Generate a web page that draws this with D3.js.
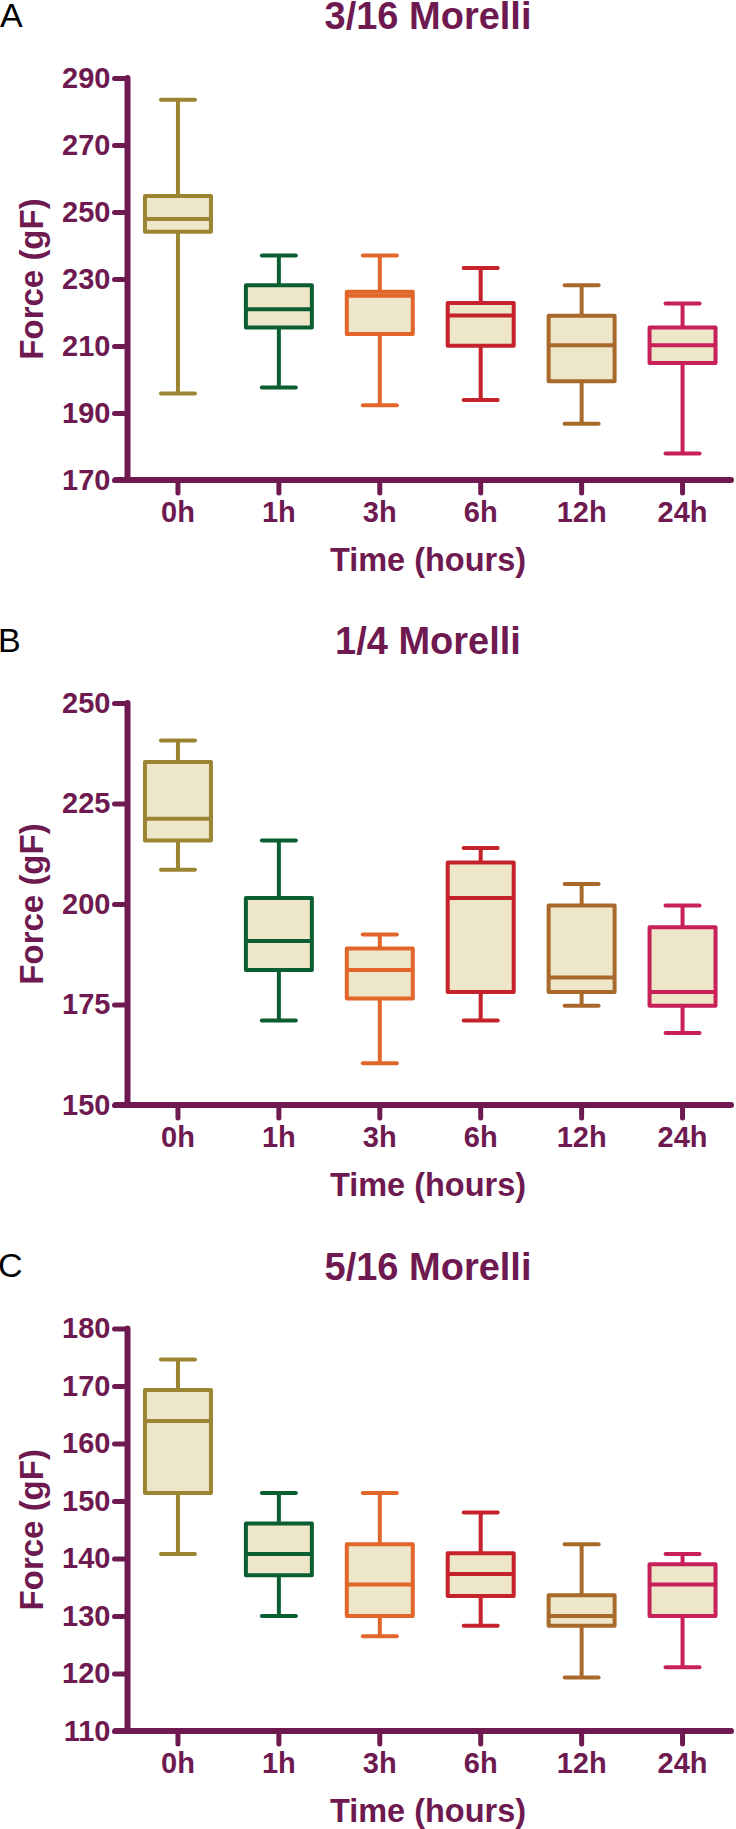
<!DOCTYPE html>
<html>
<head>
<meta charset="utf-8">
<script src="https://cdn.jsdelivr.net/npm/d3@7"></script>
<style>
  html, body { margin: 0; padding: 0; background: #fff; }
  svg { display: block; }
  text { font-family: "Liberation Sans", Arial, sans-serif; }
</style>
</head>
<body>
<svg id="chart" width="736" height="1829"></svg>
<script>
// ---------- data ----------
const categories = ["0h", "1h", "3h", "6h", "12h", "24h"];
const colors = ["#9b8532", "#0b5e31", "#e2652a", "#c6222b", "#a9692b", "#c8215a"];

// Panel A: 3/16 Morelli
const aTicks = [170, 190, 210, 230, 250, 270, 290];
const aMin = [195.8, 197.6, 192.3, 193.9, 186.8, 177.9];
const aQ1  = [244.1, 215.5, 213.6, 210.1, 199.5, 204.9];
const aMed = [247.9, 221.0, 225.0, 219.1, 210.2, 210.2];
const aQ3  = [254.8, 228.1, 226.2, 222.8, 219.0, 215.5];
const aMax = [283.5, 237.0, 237.0, 233.3, 228.1, 222.7];

// Panel B: 1/4 Morelli
const bTicks = [150, 175, 200, 225, 250];
const bMin = [208.5, 171.0, 160.4, 171.0, 174.7, 167.9];
const bQ1  = [215.8, 183.6, 176.5, 178.1, 178.1, 174.7];
const bMed = [221.2, 190.8, 183.6, 201.5, 181.7, 178.1];
const bQ3  = [235.3, 201.5, 188.9, 210.3, 199.6, 194.2];
const bMax = [240.7, 215.8, 192.4, 213.9, 205.0, 199.6];

// Panel C: 5/16 Morelli
const cTicks = [110, 120, 130, 140, 150, 160, 170, 180];
const cMin = [140.8, 130.0, 126.5, 128.3, 119.3, 121.1];
const cQ1  = [151.4, 137.1, 130.0, 133.5, 128.3, 130.0];
const cMed = [163.9, 140.8, 135.5, 137.3, 130.0, 135.5];
const cQ3  = [169.3, 146.1, 142.5, 140.9, 133.6, 139.0];
const cMax = [174.6, 151.4, 151.4, 148.0, 142.5, 140.8];

const panelLetters = ["A", "B", "C"];
const panelTitles = ["3/16 Morelli", "1/4 Morelli", "5/16 Morelli"];
const yTitle = "Force (gF)";
const xTitle = "Time (hours)";

// ---------- layout ----------
const axisColor = "#6e1a50";
const boxFill = "#ede6c9";
const layout = [
  { top: 78,    bottom: 480 },
  { top: 703,   bottom: 1105 },
  { top: 1328.5, bottom: 1731 }
];
const xLeft = 127.5, xRight = 733;

const panels = [
  { ticks: aTicks, min: aMin, q1: aQ1, med: aMed, q3: aQ3, max: aMax },
  { ticks: bTicks, min: bMin, q1: bQ1, med: bMed, q3: bQ3, max: bMax },
  { ticks: cTicks, min: cMin, q1: cQ1, med: cMed, q3: cQ3, max: cMax }
];

const svg = d3.select("#chart");

const x = d3.scaleBand().domain(categories).range([xLeft, xRight]).padding(0);
const boxW = 66, capW = 34;

panels.forEach((p, i) => {
  const L = layout[i];
  const y = d3.scaleLinear()
    .domain([d3.min(p.ticks), d3.max(p.ticks)])
    .range([L.bottom, L.top]);
  const g = svg.append("g");

  // letter
  g.append("text")
    .attr("x", i === 0 ? 0 : -2)
    .attr("y", L.top - 51.5)
    .attr("font-size", 34)
    .attr("fill", "#000")
    .text(panelLetters[i]);

  // title
  g.append("text")
    .attr("x", 428)
    .attr("y", L.top - 49)
    .attr("text-anchor", "middle")
    .attr("font-size", 38)
    .attr("font-weight", "bold")
    .attr("fill", axisColor)
    .text(panelTitles[i]);

  // y axis
  const yAxis = d3.axisLeft(y).tickValues(p.ticks).tickSize(13).tickPadding(4).tickSizeOuter(0);
  const yg = g.append("g").attr("transform", `translate(${xLeft},0)`).call(yAxis);
  yg.select(".domain").remove();
  yg.selectAll(".tick line")
    .attr("stroke", axisColor).attr("stroke-width", 5).attr("stroke-linecap", "round");
  yg.selectAll(".tick text")
    .attr("fill", axisColor).attr("font-size", 29).attr("font-weight", "bold")
    .attr("font-family", "'Liberation Sans', Arial, sans-serif");

  // x axis
  const xAxis = d3.axisBottom(x).tickSize(13).tickPadding(8).tickSizeOuter(0);
  const xg = g.append("g").attr("transform", `translate(0,${L.bottom})`).call(xAxis);
  xg.select(".domain").remove();
  xg.selectAll(".tick line")
    .attr("stroke", axisColor).attr("stroke-width", 5).attr("stroke-linecap", "round");
  xg.selectAll(".tick text")
    .attr("fill", axisColor).attr("font-size", 29).attr("font-weight", "bold")
    .attr("font-family", "'Liberation Sans', Arial, sans-serif")
    .attr("y", 42).attr("dy", 0);

  // axis lines
  g.append("line")
    .attr("x1", xLeft).attr("x2", xLeft)
    .attr("y1", y(d3.max(p.ticks))).attr("y2", L.bottom)
    .attr("stroke", axisColor).attr("stroke-width", 6).attr("stroke-linecap", "round");
  g.append("line")
    .attr("x1", xLeft - 12).attr("x2", xRight - 2)
    .attr("y1", L.bottom).attr("y2", L.bottom)
    .attr("stroke", axisColor).attr("stroke-width", 6).attr("stroke-linecap", "round");

  // axis titles
  g.append("text")
    .attr("transform", `translate(43,${(L.top + L.bottom) / 2}) rotate(-90)`)
    .attr("text-anchor", "middle")
    .attr("font-size", 33)
    .attr("font-weight", "bold")
    .attr("fill", axisColor)
    .text(yTitle);
  g.append("text")
    .attr("x", 428)
    .attr("y", L.bottom + 91)
    .attr("text-anchor", "middle")
    .attr("font-size", 32.5)
    .attr("font-weight", "bold")
    .attr("fill", axisColor)
    .text(xTitle);

  // boxes
  const rows = categories.map((c, j) => ({
    c, color: colors[j], min: p.min[j], q1: p.q1[j], med: p.med[j], q3: p.q3[j], max: p.max[j]
  }));
  const bg = g.selectAll("g.box").data(rows).join("g").attr("class", "box")
    .attr("transform", d => `translate(${x(d.c) + x.bandwidth() / 2},0)`);

  // whiskers
  bg.append("line")
    .attr("x1", 0).attr("x2", 0)
    .attr("y1", d => y(d.max)).attr("y2", d => y(d.q3))
    .attr("stroke", d => d.color).attr("stroke-width", 4);
  bg.append("line")
    .attr("x1", 0).attr("x2", 0)
    .attr("y1", d => y(d.q1)).attr("y2", d => y(d.min))
    .attr("stroke", d => d.color).attr("stroke-width", 4);
  // caps
  ["max", "min"].forEach(k => {
    bg.append("line")
      .attr("x1", -capW / 2).attr("x2", capW / 2)
      .attr("y1", d => y(d[k])).attr("y2", d => y(d[k]))
      .attr("stroke", d => d.color).attr("stroke-width", 4).attr("stroke-linecap", "round");
  });
  // box
  bg.append("rect")
    .attr("x", -boxW / 2).attr("width", boxW)
    .attr("y", d => y(d.q3)).attr("height", d => y(d.q1) - y(d.q3))
    .attr("fill", boxFill)
    .attr("stroke", d => d.color).attr("stroke-width", 4).attr("stroke-linejoin", "round");
  // median
  bg.append("line")
    .attr("x1", -boxW / 2).attr("x2", boxW / 2)
    .attr("y1", d => y(d.med)).attr("y2", d => y(d.med))
    .attr("stroke", d => d.color).attr("stroke-width", 4);
});
</script>
</body>
</html>
